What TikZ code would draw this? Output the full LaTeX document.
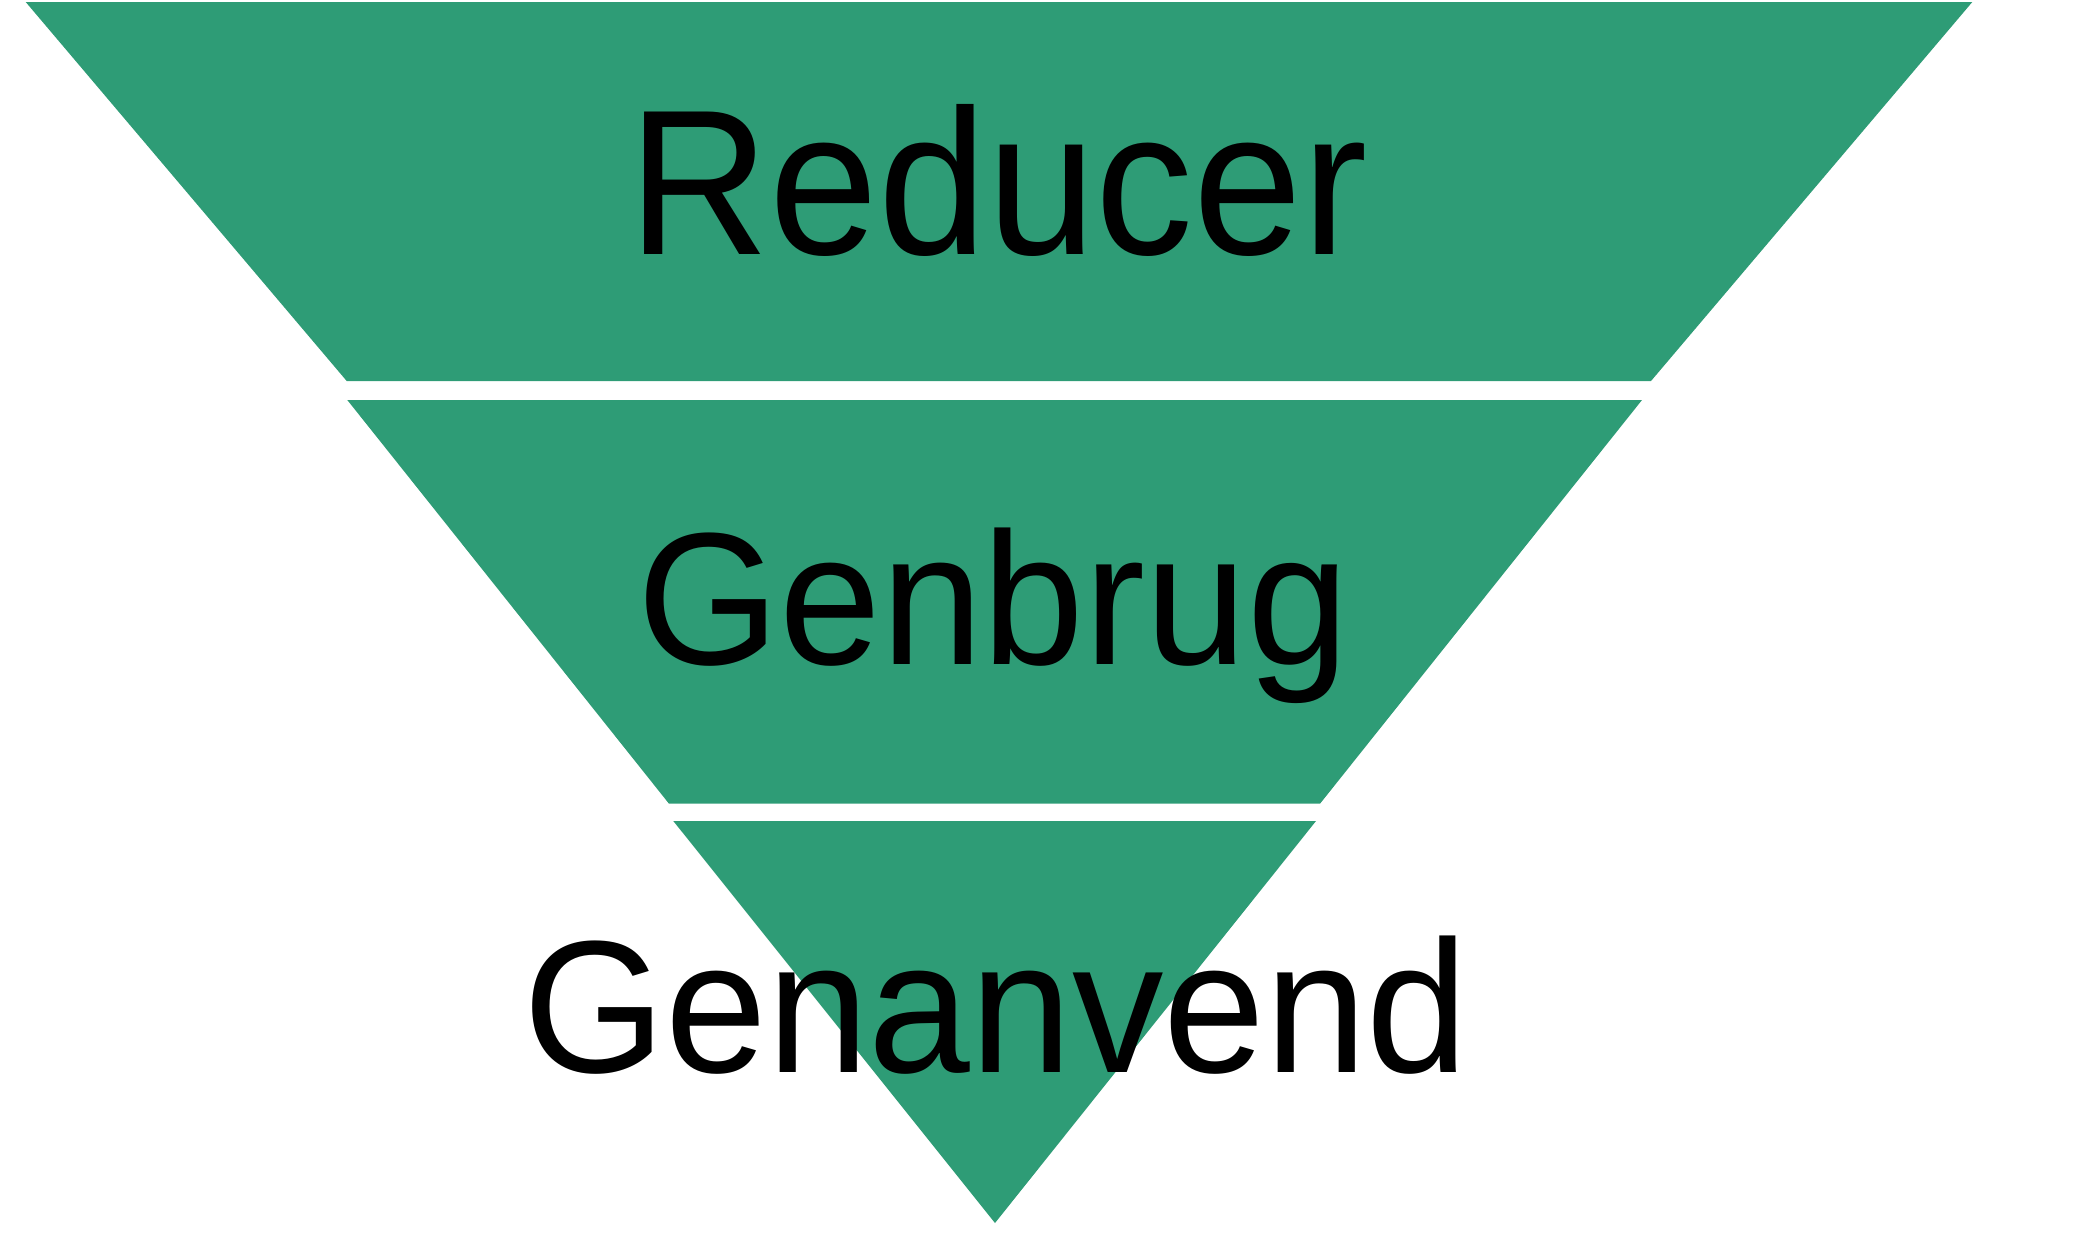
\documentclass[tikz,border=0pt]{standalone}
\usepackage{fontspec}
\setmainfont{Liberation Sans}
\usepackage{xcolor}
\usepackage{tikz}
\usetikzlibrary{positioning}
\definecolor{wastegreen}{RGB}{46,156,118}
\tikzset{
    level/.style={
        fill=wastegreen, draw=none
    },
    levellabel/.style={
        anchor=base, inner sep=0pt, text=black,
        transform shape, xscale=0.97,
        font=\fontsize{53.6}{64}\selectfont
    },
    toplabel/.style={
        levellabel, xscale=0.973,
        font=\fontsize{58.9}{70}\selectfont
    }
}
\begin{document}
\begin{tikzpicture}[x=0.01cm, y=-0.01cm]

    % CANVAS
    \useasboundingbox (0,0) rectangle (2100,1248);

    % LEVELS
    \fill[level] (25.7,2) -- (1972.3,2) -- (1651,381) -- (346.7,381) -- cycle;
    \fill[level] (347.3,400) -- (1642,400) -- (1320,803.7) -- (669,803.7) -- cycle;
    \fill[level] (673.3,821) -- (1316,821) -- (995,1223) -- cycle;

    % LABELS
    \node[toplabel] (reducer) at (998,254.5) {Reducer};
    \node[levellabel] (genbrug) at (993,664.5) {Genbrug};
    \node[levellabel] (genanvend) at (996,1072.5) {Genanvend};

\end{tikzpicture}
\end{document}
